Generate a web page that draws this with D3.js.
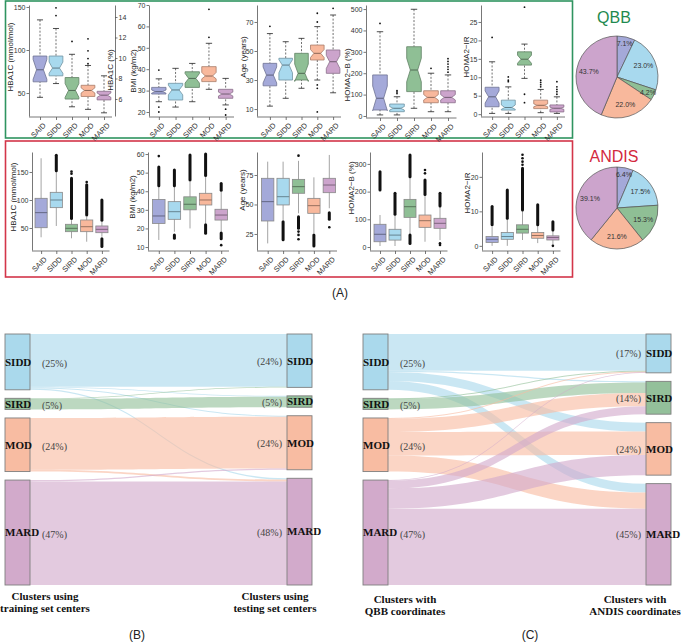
<!DOCTYPE html>
<html>
<head>
<meta charset="utf-8">
<script src="https://cdn.jsdelivr.net/npm/d3@7"></script>
<style>
body { margin: 0; background: #fff; }
svg { display: block; font-family: "Liberation Sans", Arial, sans-serif; }
</style>
</head>
<body>
<div id="chart"></div>
<script>
// categorias y colores
var clusters = ["SAID", "SIDD", "SIRD", "MOD", "MARD"];
var fills = ["#a4a9d9", "#a8d9ee", "#8fbf95", "#f8b89c", "#cca4cc"];

// QBB: [min, q1, mediana, q3, max, notchLo, notchHi]
var qbbHba1c = [[45, 63, 77, 93, 135, 66, 89], [61, 70, 79, 93, 125, 73, 86], [34, 43, 53, 68, 95, 45, 61], [31, 46, 53, 59, 82, 50, 56], [27, 42, 47.5, 52, 70, 45, 50]];
var qbbHba1cOut = [[], [140, 149], [110], [113, 99, 90, 84], []];
var qbbBmi = [[24.8, 28.4, 29.5, 31.5, 35.5, 28.8, 30.3], [22.3, 25.6, 30.3, 33.4, 40.4, 28, 32.5], [24.8, 31.5, 35.7, 38.8, 42.7, 33.5, 38], [30.6, 34.2, 36.8, 41.2, 52.1, 35.5, 38.5], [23.3, 26.4, 28.4, 30.6, 35.7, 27.5, 29.3]];
var qbbBmiOut = [[39.6, 22.3, 20], [], [], [68, 54.9], [21.3, 18.6]];
var qbbAge = [[12, 26, 33.4, 41.5, 62, 28, 39], [17.4, 30, 40.3, 45, 56.4, 35, 44], [24.3, 30, 34.6, 48.4, 58.7, 29, 41], [30, 43.8, 48.4, 54.1, 66.8, 45.5, 51], [21.2, 34.6, 42.6, 50.7, 74.8, 38, 47]];
var qbbAgeOut = [[67], [], [], [76, 70, 26.6, 24.3, 8], [79.4]];
var qbbHomaB = [[5, 28, 83, 192, 394, 25, 140], [5, 20, 36, 56, 90, 28, 44], [36, 114, 215, 324, 499, 160, 270], [20, 62, 87, 118, 200, 75, 100], [20, 62, 87, 118, 192, 75, 100]];
var qbbHomaBOut = [[433], [105, 112, 118], [], [223], [205, 218, 230, 243, 255, 268]];
var qbbHomaIr = [[0.2, 2, 4.7, 7.3, 14.2, 3, 6.3], [0.2, 1.1, 1.8, 3.8, 7.4, 1.3, 2.5], [9.7, 13.3, 14.9, 16.9, 19, 13.8, 16], [0.4, 1.5, 2.4, 3.8, 6.7, 2, 2.8], [0.2, 0.6, 1.6, 2.5, 4.7, 1.3, 1.9]];
var qbbHomaIrOut = [[20.8], [10.1, 9.2, 8.8], [29, 5.4, 3.1], [9.2, 8.6, 8, 7.4], [8.8, 7.4, 6.7, 6.1, 5.4]];

// ANDIS: [min, q1, mediana, q3, max]; bandas = outliers densos [desde, hasta]
var andisHba1c = [[33.4, 50.5, 77.4, 103, 174.5], [53.6, 86.3, 100, 113.7, 150], [31.6, 43.4, 49.4, 56.6, 64], [25.5, 43.4, 52.3, 64.3, 70], [34.5, 41.6, 47.6, 53.6, 61]];
var andisHba1cBand = [[], [[152, 180]], [[67, 139]], [[73, 127]], [[64, 100], [17, 31]]];
var andisHba1cPts = [[], [], [151, 147], [132], []];
var andisBmi = [[13.8, 22.7, 26.7, 35.6, 42.4], [18.2, 24.9, 29, 34.4, 42.4], [20, 30, 33, 37, 45], [22.7, 32.6, 35.3, 38.9, 47.8], [18.2, 24.5, 27.2, 30.3, 39.7]];
var andisBmiBand = [[[43, 53]], [[43, 51.4], [14.7, 16.5]], [[46, 59.5]], [[48.5, 60], [17.4, 22]], [[40.5, 44.2], [14.5, 17.5]]];
var andisBmiPts = [[58.9], [], [], [], [11]];
var andisAge = [[17, 36, 52.4, 72.2, 86.3], [36.9, 49.6, 56.6, 72.2, 86.3], [42.5, 59.5, 65.1, 71.3, 87], [25.6, 42.5, 49, 55.2, 73], [46.8, 60, 66.5, 72.2, 92]];
var andisAgeBand = [[], [[20, 35.4]], [[29.8, 39.7]], [[14.8, 24.2]], [[37.4, 43]]];
var andisAgePts = [[], [], [91.4, 27, 24.2, 20.5], [], [30.7]];
var andisHomaB = [[3.6, 19, 46, 82, 115.5], [3.6, 25, 43, 64, 115], [25, 107, 145.5, 172, 250], [19, 71, 95, 115.5, 188], [25, 67.5, 85.6, 103.6, 145.5]];
var andisHomaBBand = [[[206, 272]], [[118, 194]], [[254, 332], [13, 43]], [[190, 242]], [[148, 194]]];
var andisHomaBPts = [[], [], [], [278, 266], [13.4, 7.2]];
var andisHomaIr = [[0, 1, 1.9, 2.7, 5.6], [0, 1.9, 2.7, 3.9, 8], [1.7, 3.7, 4.8, 6.1, 10.4], [0.8, 2.2, 3, 3.9, 6.1], [0.3, 1.7, 2.4, 2.9, 4.6]];
var andisHomaIrBand = [[[6.1, 11.4]], [[8, 16.2]], [[10.4, 22.5]], [[6.1, 11.9]], [[4.6, 7]]];
var andisHomaIrPts = [[], [], [26.4, 25.4, 24.4, 23.5], [], [0]];

// tortas
var qbbPie = [7.1, 23.0, 4.2, 22.0, 43.7];
var andisPie = [6.4, 17.5, 15.3, 21.6, 39.1];

// sankey: filas = origen, columnas = destino (SIDD, SIRD, MOD, MARD), en %
var sankeyNames = ["SIDD", "SIRD", "MOD", "MARD"];
var sankeyColors = ["#aad9ec", "#93c09a", "#f8bca2", "#d2aacb"];
var flowsB = [[23.6, 0.4, 0.4, 0.6], [0.3, 4.7, 0, 0], [0, 0, 23.2, 0.8], [0, 0, 0.6, 46.4]];
var flowsC = [[16.5, 0.5, 4, 4], [0.3, 4.7, 0, 0], [0.3, 6, 10.5, 7.2], [0.3, 3.5, 9, 34.2]];
var leftPctB = ["(25%)", "(5%)", "(24%)", "(47%)"];
var rightPctB = ["(24%)", "(5%)", "(24%)", "(48%)"];
var leftPctC = ["(25%)", "(5%)", "(24%)", "(47%)"];
var rightPctC = ["(17%)", "(14%)", "(24%)", "(45%)"];

var svg = d3.select("#chart").append("svg").attr("width", 681).attr("height", 643);

var green = "#2f9460", red = "#d33549";

// marcos
svg.append("rect").attr("x", 5.5).attr("y", 1).attr("width", 567).attr("height", 137)
    .attr("fill", "none").attr("stroke", green).attr("stroke-width", 1.6);
svg.append("rect").attr("x", 5.5).attr("y", 141).attr("width", 567).attr("height", 136)
    .attr("fill", "none").attr("stroke", red).attr("stroke-width", 1.6);

function styleAxis(a) {
    a.selectAll("path, line").attr("stroke", "#555").attr("stroke-width", 0.8);
    a.selectAll("text").attr("fill", "#333").style("font-size", "7px");
}

function drawPanel(p, stats, out, bands, pts, notch) {
    var g = svg.append("g");
    var y = d3.scaleLinear().domain(p.domain).range([p.bottom, p.top]);
    var x = d3.scalePoint().domain(clusters).range([p.x0, p.x1]).padding(0.5);
    var bw = x.step() * (notch ? 0.86 : 0.8);

    var ya = g.append("g").attr("transform", "translate(" + p.axisX + ",0)")
        .call(d3.axisLeft(y).tickValues(p.ticks).tickSize(2.5).tickSizeOuter(0).tickPadding(1));
    styleAxis(ya);

    var xa = g.append("g").attr("transform", "translate(0," + (p.bottom + 1) + ")")
        .call(d3.axisBottom(x).tickSize(3).tickSizeOuter(0));
    xa.select(".domain").attr("d", "M" + p.axisX + ",0H" + p.x1);
    styleAxis(xa);
    xa.selectAll("text").attr("y", 0).attr("dy", "0.35em").attr("text-anchor", "end")
        .attr("transform", "translate(4,7) rotate(-45)").style("font-size", "7.5px");

    g.append("text")
        .attr("transform", "translate(" + p.titleX + "," + p.titleY + ") rotate(-90)")
        .attr("text-anchor", "middle").attr("dy", "0.35em")
        .style("font-size", "8px").attr("fill", "#222").text(p.title);

    stats.forEach(function (s, i) {
        var cx = x(clusters[i]), L = cx - bw / 2, R = cx + bw / 2;
        var col = fills[i];
        if (notch) {
            g.append("line").attr("x1", cx).attr("x2", cx).attr("y1", y(s[4])).attr("y2", y(s[3])).attr("stroke", "#333").attr("stroke-width", 0.7).attr("stroke-dasharray", "2,1.6");
            g.append("line").attr("x1", cx).attr("x2", cx).attr("y1", y(s[0])).attr("y2", y(s[1])).attr("stroke", "#333").attr("stroke-width", 0.7).attr("stroke-dasharray", "2,1.6");
            [s[0], s[4]].forEach(function (v) {
                g.append("line").attr("x1", cx - bw * 0.22).attr("x2", cx + bw * 0.22)
                    .attr("y1", y(v)).attr("y2", y(v)).attr("stroke", "#222").attr("stroke-width", 0.8);
            });
            var pth = [[L, s[1]], [L, s[5]], [L + bw / 4, s[2]], [L, s[6]], [L, s[3]],
                       [R, s[3]], [R, s[6]], [R - bw / 4, s[2]], [R, s[5]], [R, s[1]]];
            g.append("path")
                .attr("d", "M" + pth.map(function (q) { return q[0] + "," + y(q[1]); }).join("L") + "Z")
                .attr("fill", col).attr("stroke", d3.color(col).darker(1.1)).attr("stroke-width", 0.8);
            g.append("line").attr("x1", L + bw / 4).attr("x2", R - bw / 4)
                .attr("y1", y(s[2])).attr("y2", y(s[2])).attr("stroke", d3.color(col).darker(1.6)).attr("stroke-width", 1);
            g.selectAll(null).data(out[i]).enter().append("circle")
                .attr("cx", cx).attr("cy", function (d) { return y(d); }).attr("r", 0.9).attr("fill", "#111");
        } else {
            g.append("line").attr("x1", cx).attr("x2", cx).attr("y1", y(s[4])).attr("y2", y(s[0]))
                .attr("stroke", "#9a9a9a").attr("stroke-width", 0.9);
            bands[i].forEach(function (b) {
                g.append("line").attr("x1", cx).attr("x2", cx).attr("y1", y(b[0])).attr("y2", y(b[1]))
                    .attr("stroke", "#111").attr("stroke-width", 3).attr("stroke-linecap", "round");
            });
            g.selectAll(null).data(pts[i]).enter().append("circle")
                .attr("cx", cx).attr("cy", function (d) { return y(d); }).attr("r", 1.3).attr("fill", "#111");
            g.append("rect").attr("x", L).attr("width", bw).attr("y", y(s[3])).attr("height", y(s[1]) - y(s[3]))
                .attr("fill", col).attr("stroke", "#888").attr("stroke-width", 0.8);
            g.append("line").attr("x1", L).attr("x2", R).attr("y1", y(s[2])).attr("y2", y(s[2]))
                .attr("stroke", d3.color(col).darker(1.4)).attr("stroke-width", 1);
        }
    });
    return g;
}

// fila QBB
var p1 = drawPanel({ axisX: 29, x0: 32, x1: 112, top: 5, bottom: 116, domain: [23.3, 152.3], ticks: [50, 100, 150], title: "HBA1C (mmol/mol)", titleX: 10, titleY: 57 }, qbbHba1c, qbbHba1cOut, null, null, true);
var yPct = d3.scaleLinear().domain([4.34, 15.17]).range([116, 5]);
var ra = p1.append("g").attr("transform", "translate(115,0)")
    .call(d3.axisRight(yPct).tickValues([6, 8, 10, 12, 14]).tickSize(2.5).tickSizeOuter(0).tickPadding(1));
styleAxis(ra);
p1.append("text").attr("transform", "translate(110,70) rotate(-90)").attr("text-anchor", "middle")
    .attr("dy", "0.35em").style("font-size", "8px").attr("fill", "#222").text("HBA1C (%)");

drawPanel({ axisX: 149, x0: 150.5, x1: 234, top: 5, bottom: 116, domain: [18.13, 70], ticks: [20, 30, 40, 50, 60, 70], title: "BMI (kg/m2)", titleX: 133, titleY: 71 }, qbbBmi, qbbBmiOut, null, null, true);
drawPanel({ axisX: 257, x0: 262, x1: 341, top: 5, bottom: 116, domain: [5.2, 81.7], ticks: [10, 30, 50, 70], title: "Age (years)", titleX: 243, titleY: 57 }, qbbAge, qbbAgeOut, null, null, true);
drawPanel({ axisX: 366, x0: 371.5, x1: 456.5, top: 5, bottom: 117, domain: [-4.7, 519], ticks: [0, 100, 200, 300, 400, 500], title: "HOMA2\u2212B (%)", titleX: 347, titleY: 75 }, qbbHomaB, qbbHomaBOut, null, null, true);
drawPanel({ axisX: 481, x0: 484, x1: 565, top: 5, bottom: 116, domain: [-0.5, 29.6], ticks: [0, 5, 10, 15, 20, 25], title: "HOMA2\u2212IR", titleX: 466.5, titleY: 57 }, qbbHomaIr, qbbHomaIrOut, null, null, true);

// fila ANDIS
drawPanel({ axisX: 32, x0: 33.5, x1: 109.5, top: 152, bottom: 250, domain: [10.7, 185.7], ticks: [50, 100, 150], title: "HBA1C (mmol/mol)", titleX: 13, titleY: 197 }, andisHba1c, null, andisHba1cBand, andisHba1cPts, false);
drawPanel({ axisX: 148, x0: 151, x1: 229, top: 152, bottom: 250, domain: [8.4, 61.1], ticks: [10, 20, 30, 40, 50, 60], title: "BMI (kg/m2)", titleX: 132, titleY: 197 }, andisBmi, null, andisBmiBand, andisBmiPts, false);
drawPanel({ axisX: 257, x0: 260, x1: 337, top: 152, bottom: 250, domain: [11.4, 94.5], ticks: [25, 50, 75], title: "Age (years)", titleX: 242.5, titleY: 190 }, andisAge, null, andisAgeBand, andisAgePts, false);
drawPanel({ axisX: 370, x0: 372.5, x1: 447.5, top: 152, bottom: 250, domain: [-10.8, 343], ticks: [0, 100, 200, 300], title: "HOMA2\u2212B (%)", titleX: 351, titleY: 188 }, andisHomaB, null, andisHomaBBand, andisHomaBPts, false);
drawPanel({ axisX: 482, x0: 484.5, x1: 560.5, top: 152, bottom: 250, domain: [-1.2, 27.2], ticks: [0, 10, 20], title: "HOMA2\u2212IR", titleX: 467, titleY: 193 }, andisHomaIr, null, andisHomaIrBand, andisHomaIrPts, false);

// tortas
function drawPie(values, cx, cy, r, title, titleY, color) {
    var g = svg.append("g").attr("transform", "translate(" + cx + "," + cy + ")");
    var arcs = d3.pie().sort(null).value(function (d) { return d; })(values);
    var arc = d3.arc().innerRadius(0).outerRadius(r);
    g.selectAll(".sl").data(arcs).enter().append("path")
        .attr("d", arc).attr("fill", function (d, i) { return fills[i]; })
        .attr("stroke", "#555").attr("stroke-width", 0.7);
    g.selectAll(".lb").data(arcs).enter().append("text")
        .attr("transform", function (d) {
            var lr = d.data < 8 ? r * 0.84 : r * 0.7;
            var a = (d.startAngle + d.endAngle) / 2;
            return "translate(" + (Math.sin(a) * lr) + "," + (-Math.cos(a) * lr) + ")";
        })
        .attr("text-anchor", "middle").attr("dy", "0.35em")
        .style("font-size", "7px").attr("fill", "#333")
        .text(function (d) { return d.data.toFixed(1) + "%"; });
    svg.append("text").attr("x", cx - 3).attr("y", titleY).attr("text-anchor", "middle")
        .style("font-size", "16px").attr("fill", color).text(title);
}
drawPie(qbbPie, 617, 77, 41, "QBB", 23, "#1f8a4f");
drawPie(andisPie, 617, 208, 41, "ANDIS", 162, "#d32a3e");

svg.append("text").attr("x", 340).attr("y", 297).attr("text-anchor", "middle")
    .style("font-size", "12px").attr("fill", "#222").text("(A)");

// sankey
function drawSankey(flows, o) {
    var g = svg.append("g");
    var gap = 8.5, top = 334;
    var h = d3.scaleLinear().domain([0, 101]).range([0, 225.5]);
    var srcTot = flows.map(function (r) { return d3.sum(r); });
    var tgtTot = sankeyNames.map(function (n, j) { return d3.sum(flows, function (r) { return r[j]; }); });

    function stack(tot) {
        var pos = [], yy = top;
        tot.forEach(function (v) { pos.push([yy, yy + h(v)]); yy += h(v) + gap; });
        return pos;
    }
    var left = stack(srcTot), right = stack(tgtTot);
    var lx0 = o.lx, lx1 = o.lx + 25, rx0 = o.rx;

    // enlaces
    var links = [];
    var tOff = right.map(function (d) { return d[0]; });
    var sOff = left.map(function (d) { return d[0]; });
    flows.forEach(function (r, i) {
        r.forEach(function (v, j) {
            if (v <= 0) return;
            links.push({ s: i, t: j, v: v, sy: sOff[i], ty: 0 });
            sOff[i] += h(v);
        });
    });
    // posicion en destino ordenada por origen
    sankeyNames.forEach(function (n, j) {
        links.filter(function (l) { return l.t === j; })
            .sort(function (a, b) { return a.s - b.s; })
            .forEach(function (l) { l.ty = tOff[j]; tOff[j] += h(l.v); });
    });
    var xm = (lx1 + rx0) / 2;
    g.selectAll(".lk").data(links).enter().append("path")
        .attr("d", function (l) {
            var p = d3.path(), w = Math.max(h(l.v), 0.9);
            p.moveTo(lx1, l.sy);
            p.bezierCurveTo(xm, l.sy, xm, l.ty, rx0, l.ty);
            p.lineTo(rx0, l.ty + w);
            p.bezierCurveTo(xm, l.ty + w, xm, l.sy + w, lx1, l.sy + w);
            p.closePath();
            return p.toString();
        })
        .attr("fill", function (l) { return sankeyColors[l.s]; })
        .attr("fill-opacity", 0.62);

    // nodos
    [[left, lx0], [right, rx0]].forEach(function (side) {
        g.selectAll(null).data(side[0]).enter().append("rect")
            .attr("x", side[1]).attr("width", 25)
            .attr("y", function (d) { return d[0]; })
            .attr("height", function (d) { return d[1] - d[0]; })
            .attr("fill", function (d, i) { return sankeyColors[i]; })
            .attr("stroke", "#7f7f7f").attr("stroke-width", 0.9);
        g.selectAll(null).data(side[0]).enter().append("text")
            .attr("x", side[1]).attr("y", function (d) { return (d[0] + d[1]) / 2; })
            .attr("dy", "0.35em").style("font-family", "'Liberation Serif', serif")
            .style("font-size", "11px").style("font-weight", "bold").attr("fill", "#111")
            .text(function (d, i) { return sankeyNames[i]; });
    });
    g.selectAll(null).data(left).enter().append("text")
        .attr("x", lx1 + 12).attr("y", function (d) { return (d[0] + d[1]) / 2 + 1.5; })
        .attr("dy", "0.35em").style("font-family", "'Liberation Serif', serif")
        .style("font-size", "10px").attr("fill", "#444")
        .text(function (d, i) { return o.lp[i]; });
    g.selectAll(null).data(right).enter().append("text")
        .attr("x", rx0 - 5).attr("y", function (d) { return (d[0] + d[1]) / 2 + 0.5; })
        .attr("text-anchor", "end").attr("dy", "0.35em").style("font-family", "'Liberation Serif', serif")
        .style("font-size", "10px").attr("fill", "#444")
        .text(function (d, i) { return o.rp[i]; });

    // leyendas inferiores
    [[o.capL, o.capLX], [o.capR, o.capRX]].forEach(function (c) {
        c[0].forEach(function (line, k) {
            g.append("text").attr("x", c[1]).attr("y", o.capY + k * 12).attr("text-anchor", "middle")
                .style("font-family", "'Liberation Serif', serif").style("font-size", "11px")
                .style("font-weight", "bold").attr("fill", "#111").text(line);
        });
    });
    g.append("text").attr("x", o.tagX).attr("y", 639).attr("text-anchor", "middle")
        .style("font-size", "12px").attr("fill", "#222").text(o.tag);
}

drawSankey(flowsB, {
    lx: 5, rx: 287, lp: leftPctB, rp: rightPctB,
    capL: ["Clusters using", "training set centers"], capLX: 45,
    capR: ["Clusters using", "testing set centers"], capRX: 275, capY: 600,
    tag: "(B)", tagX: 137
});
drawSankey(flowsC, {
    lx: 363, rx: 646, lp: leftPctC, rp: rightPctC,
    capL: ["Clusters with", "QBB  coordinates"], capLX: 405,
    capR: ["Clusters with", "ANDIS coordinates"], capRX: 635, capY: 603,
    tag: "(C)", tagX: 530
});
</script>
</body>
</html>
